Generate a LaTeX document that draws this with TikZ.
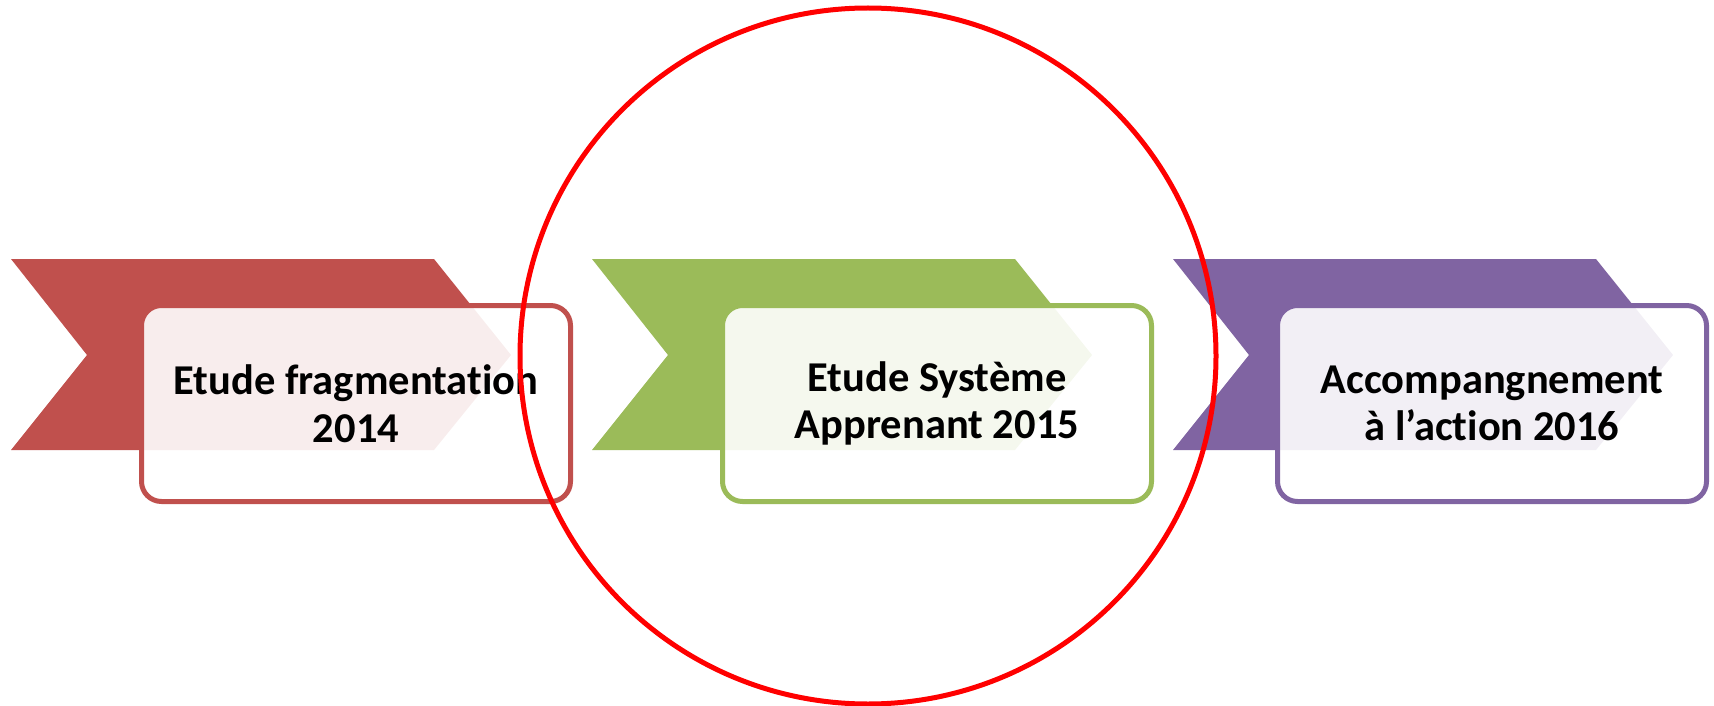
\documentclass[tikz,border=0pt]{standalone}
\usepackage{fontspec}
\setmainfont{Carlito}[Ligatures=NoCommon]
\definecolor{cred}{HTML}{C0504D}
\definecolor{cgreen}{HTML}{9BBB59}
\definecolor{cpurple}{HTML}{8064A2}
\begin{document}
\begin{tikzpicture}[x=1pt,y=-1pt,
  card/.style={draw=#1, line width=5pt, fill=white, fill opacity=0.9, text opacity=1,
    rounded corners=20pt, minimum width=429pt, minimum height=196pt, align=center,
    font=\fontsize{42.5}{47.5}\selectfont\bfseries, inner sep=0pt, text=black},
  ring/.style={draw=red, line width=5pt}]
\useasboundingbox (0,0) rectangle (1714,706);
% chevrons
\fill[cred] (11,259) -- (434,259) -- (511,355) -- (434,450) -- (11,450) -- (87,355) -- cycle;
\fill[cgreen] (592,259) -- (1015,259) -- (1092,355) -- (1015,450) -- (592,450) -- (668,355) -- cycle;
\fill[cpurple] (1173,259) -- (1596,259) -- (1673,355) -- (1596,450) -- (1173,450) -- (1249,355) -- cycle;
% cards
\node[card=cred] (b1) at (356,403.5) {Etude fragmentation\\2014};
\node[card=cgreen] (b2) at (937,403.5) {Etude Système\\Apprenant 2015};
\node[card=cpurple] (b3) at (1492,403.5) {Accompangnement\\à l’action 2016};
% circle
\draw[ring] (868,356) circle[radius=348];
\end{tikzpicture}
\end{document}
